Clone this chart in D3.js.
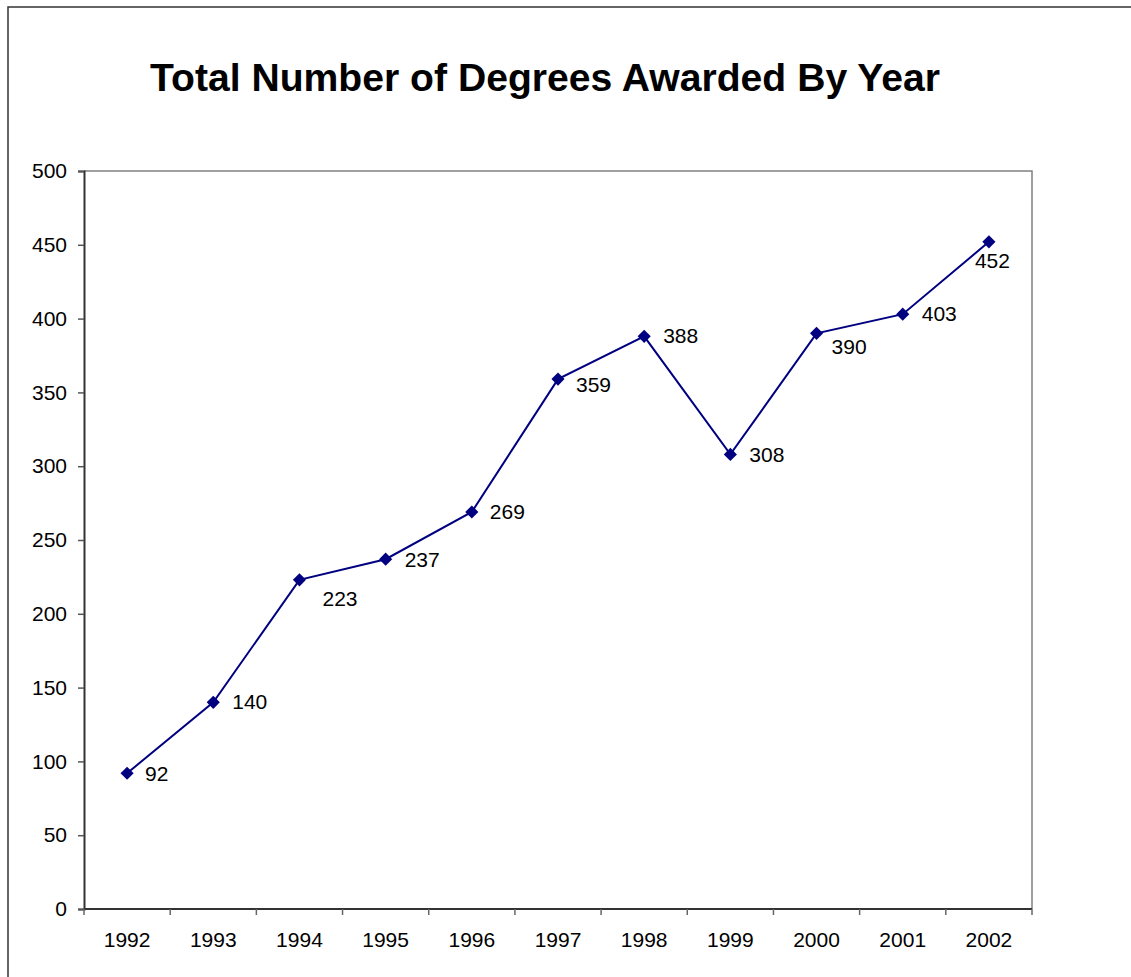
<!DOCTYPE html>
<html>
<head>
<meta charset="utf-8">
<script src="https://cdn.jsdelivr.net/npm/d3@7"></script>
<style>
  html, body { margin: 0; padding: 0; background: #fff; }
  svg { display: block; font-family: "Liberation Sans", Arial, sans-serif; }
</style>
</head>
<body>
<svg id="chart" width="1131" height="977"></svg>
<script>
const title = "Total Number of Degrees Awarded By Year";
const years = ["1992","1993","1994","1995","1996","1997","1998","1999","2000","2001","2002"];
const degrees = [92, 140, 223, 237, 269, 359, 388, 308, 390, 403, 452];
const yTicks = [0, 50, 100, 150, 200, 250, 300, 350, 400, 450, 500];

const svg = d3.select("#chart");
const W = 1131, H = 977;
const plot = { left: 84, top: 171, right: 1032, bottom: 909 };

// outer chart frame (extends past right/bottom edges)
svg.append("rect")
  .attr("x", 8).attr("y", 7)
  .attr("width", W + 20).attr("height", H + 20)
  .attr("fill", "#fff").attr("stroke", "#333").attr("stroke-width", 1.5);

// title
svg.append("text")
  .attr("x", 545).attr("y", 91)
  .attr("text-anchor", "middle")
  .attr("font-size", 39).attr("font-weight", "bold")
  .attr("textLength", 790).attr("lengthAdjust", "spacingAndGlyphs")
  .attr("fill", "#000")
  .text(title);

const x = d3.scaleBand().domain(years).range([plot.left, plot.right]).padding(0);
const y = d3.scaleLinear().domain([0, 500]).range([plot.bottom, plot.top]);

// plot area top/right border (gray)
svg.append("path")
  .attr("d", `M${plot.left},${plot.top}H${plot.right}V${plot.bottom}`)
  .attr("fill", "none").attr("stroke", "#808080").attr("stroke-width", 1.5);

// y axis
const yAxis = svg.append("g")
  .attr("transform", `translate(${plot.left},0)`)
  .call(d3.axisLeft(y).tickValues(yTicks).tickSize(6).tickPadding(11).tickFormat(d3.format("d")));
yAxis.select(".domain").attr("stroke", "#333").attr("stroke-width", 2);
yAxis.selectAll(".tick line").attr("stroke", "#555").attr("stroke-width", 1.5);
yAxis.selectAll(".tick text").attr("font-size", 21).attr("fill", "#000")
  .attr("font-family", "Liberation Sans, Arial, sans-serif");

// x axis with ticks at category boundaries
const xAxisG = svg.append("g").attr("transform", `translate(0,${plot.bottom})`);
xAxisG.append("line")
  .attr("x1", plot.left).attr("x2", plot.right).attr("y1", 0).attr("y2", 0)
  .attr("stroke", "#333").attr("stroke-width", 2);
const boundaries = years.map(d => x(d)).concat([x(years[years.length - 1]) + x.bandwidth()]);
xAxisG.selectAll("line.tk").data(boundaries).join("line")
  .attr("class", "tk")
  .attr("x1", d => d).attr("x2", d => d).attr("y1", 0).attr("y2", 6)
  .attr("stroke", "#666").attr("stroke-width", 1.5);
xAxisG.selectAll("text").data(years).join("text")
  .attr("x", d => x(d) + x.bandwidth() / 2)
  .attr("y", 38)
  .attr("text-anchor", "middle")
  .attr("font-size", 21).attr("fill", "#000")
  .text(d => d);

const cx = (d, i) => x(years[i]) + x.bandwidth() / 2;

// line
const line = d3.line().x((d, i) => cx(d, i)).y(d => y(d));
svg.append("path")
  .datum(degrees)
  .attr("d", line)
  .attr("fill", "none").attr("stroke", "#000080").attr("stroke-width", 2);

// markers (diamonds)
svg.selectAll("path.mk").data(degrees).join("path")
  .attr("class", "mk")
  .attr("d", d3.symbol().type(d3.symbolDiamond2).size(110))
  .attr("transform", (d, i) => `translate(${cx(d, i)},${y(d)})`)
  .attr("fill", "#000080");

// data labels (Excel auto-placed offsets)
const labelDx = [18, 19, 23, 19, 18, 18, 19, 19, 15, 19, -14];
const labelDy = [0, -1, 19, 0, -1, 5, -1, 0, 13, -1, 19];
svg.selectAll("text.lbl").data(degrees).join("text")
  .attr("class", "lbl")
  .attr("x", (d, i) => cx(d, i) + labelDx[i])
  .attr("y", (d, i) => y(d) + labelDy[i])
  .attr("dy", "0.36em")
  .attr("font-size", 21).attr("fill", "#000")
  .text(d => d);
</script>
</body>
</html>
